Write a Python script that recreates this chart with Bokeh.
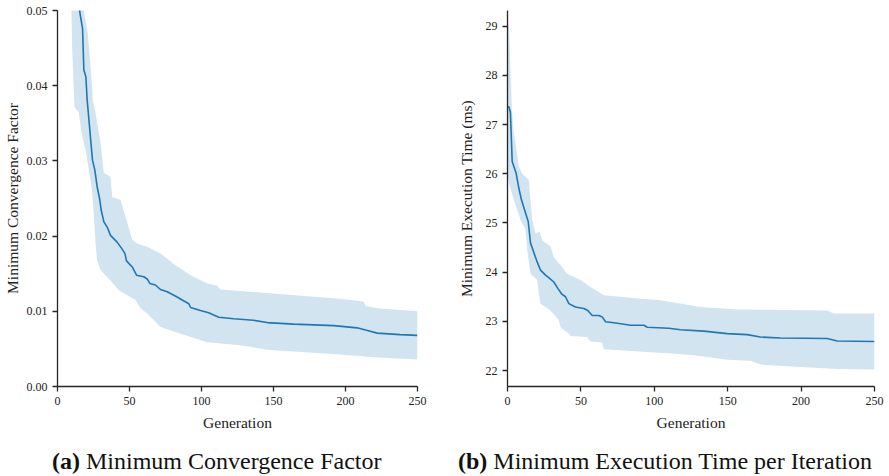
from bokeh.plotting import figure
from bokeh.layouts import row, column
from bokeh.models import Range1d, FixedTicker, PrintfTickFormatter, Div
from bokeh.embed import file_html
from bokeh.resources import INLINE

# ---------------- data: (a) Minimum Convergence Factor ----------------
conv_gen = [0, 15.3, 17.4, 18.3, 19.7, 20.6, 24.3, 25.9, 27.5, 29.4, 30.3, 32.2, 34.5, 36.8,
            41.4, 44.4, 46.8, 47.9, 51.9, 54.9, 59.9, 62.3, 64.1, 68, 71.5, 76.2, 83.1, 86.6,
            91.2, 92.4, 99.3, 105, 112, 122.4, 136, 145.6, 164, 191.9, 208, 213.9, 222, 238, 250]
conv_mean = [0.090, 0.0500, 0.0476, 0.0421, 0.0412, 0.0381, 0.0301, 0.0288, 0.0266, 0.0248,
             0.0235, 0.0219, 0.0212, 0.0201, 0.0192, 0.0184, 0.0177, 0.0167, 0.0159, 0.0148,
             0.0146, 0.0143, 0.0137, 0.0135, 0.0129, 0.0126, 0.0119, 0.0115, 0.0110, 0.0105,
             0.0101, 0.0098, 0.0092, 0.0090, 0.0088, 0.0085, 0.0083, 0.0081, 0.0078, 0.0075,
             0.0071, 0.0069, 0.0068]
conv_up_gen = [0, 18.3, 21, 23, 24.5, 26, 29.9, 32.2, 36.8, 38, 43.8, 51.9, 55.3, 62.3, 71.5,
               80.8, 92.4, 104, 111, 113, 141, 194, 212.5, 214, 222, 250]
conv_up = [0.110, 0.0500, 0.0470, 0.0426, 0.0381, 0.0368, 0.0324, 0.0284, 0.0279, 0.0252,
           0.0248, 0.0195, 0.0190, 0.0186, 0.0177, 0.0163, 0.0148, 0.0137, 0.0134, 0.0129,
           0.0125, 0.0117, 0.0113, 0.0107, 0.0104, 0.0100]
conv_lo_gen = [0, 9.7, 10.2, 11.8, 14.8, 16.7, 20, 24, 25.5, 26.4, 27.5, 29.9, 36.8, 42.6, 54.2,
               57.6, 62.3, 66.9, 71.5, 85.4, 104, 127, 145.6, 168.8, 194, 219.6, 250]
conv_lo = [0.075, 0.0500, 0.0448, 0.0372, 0.0364, 0.0337, 0.0310, 0.0260, 0.0220, 0.0190,
           0.0168, 0.0155, 0.0141, 0.0128, 0.0115, 0.0104, 0.0097, 0.0088, 0.0079, 0.0070,
           0.0059, 0.0055, 0.0049, 0.0046, 0.0043, 0.0039, 0.0036]

# ---------------- data: (b) Minimum Execution Time per Iteration ----------------
time_gen = [0, 1, 2, 3.2, 5.9, 7.7, 9.5, 11.6, 14.1, 15.7, 19.8, 22.5, 25.9, 28.1, 31.5, 34.3,
            36.8, 39.5, 41.8, 46.3, 52, 54.7, 57.7, 62.2, 64.5, 66.8, 72.4, 83.8, 92.9, 95.2,
            109.9, 117.8, 133.7, 149.7, 163.3, 172.3, 186, 217.8, 224.6, 250]
time_mean = [27.36, 27.36, 27.24, 26.25, 26.01, 25.71, 25.47, 25.27, 25.03, 24.59, 24.24,
             24.04, 23.94, 23.89, 23.80, 23.67, 23.56, 23.50, 23.36, 23.29, 23.26, 23.22,
             23.12, 23.12, 23.09, 22.99, 22.97, 22.92, 22.92, 22.88, 22.86, 22.83, 22.80,
             22.75, 22.73, 22.68, 22.66, 22.65, 22.60, 22.59]
time_up_gen = [0, 0.9, 2, 3, 4.3, 5.4, 7.7, 10, 14.5, 16.8, 19.1, 22, 23.6, 29.3, 31.5, 36.1,
               40.7, 49.7, 56.5, 65.6, 77, 90.6, 104.2, 131.5, 156.5, 217.8, 222.3, 250]
time_up = [29.05, 29.03, 28.19, 27.3, 26.83, 26.63, 26.15, 26.0, 25.88, 25.06, 24.79, 24.82,
           24.65, 24.52, 24.31, 24.14, 23.97, 23.84, 23.70, 23.53, 23.50, 23.46, 23.43, 23.29,
           23.24, 23.22, 23.16, 23.16]
time_lo_gen = [0, 0.5, 1, 4.3, 8.9, 12.3, 13.4, 15.7, 20.2, 21.3, 22.5, 29.3, 35, 36.1, 41.8,
               42.9, 54.3, 56.5, 64.5, 65.6, 81.5, 97.4, 110, 127, 149.7, 165.5, 172.3, 199.6,
               224.6, 250]
time_lo = [26.1, 25.9, 25.8, 25.47, 25.06, 24.86, 24.45, 23.97, 23.84, 23.57, 23.36, 23.22,
           23.02, 22.88, 22.75, 22.70, 22.68, 22.59, 22.57, 22.43, 22.40, 22.37, 22.35, 22.31,
           22.22, 22.20, 22.12, 22.07, 22.03, 22.02]

gen_ticks = [0, 50, 100, 150, 200, 250]
conv_ticks = [0.00, 0.01, 0.02, 0.03, 0.04, 0.05]
time_ticks = [22, 23, 24, 25, 26, 27, 28, 29]

FONT = "Liberation Serif"
BLUE = "#1f77b4"
AXC = "#262626"


def style(p, xlabel, ylabel, xticks, yticks, yfmt, ylabel_standoff):
    p.xgrid.visible = False
    p.ygrid.visible = False
    p.outline_line_color = None
    p.background_fill_color = "white"
    p.border_fill_color = "white"
    p.xaxis.axis_label = xlabel
    p.yaxis.axis_label = ylabel
    p.xaxis.ticker = FixedTicker(ticks=xticks)
    p.yaxis.ticker = FixedTicker(ticks=yticks)
    p.yaxis.formatter = PrintfTickFormatter(format=yfmt)
    for ax in (p.xaxis, p.yaxis):
        ax.axis_line_color = AXC
        ax.axis_line_width = 1.3
        ax.major_tick_line_color = AXC
        ax.major_tick_line_width = 1.3
        ax.major_tick_out = 5
        ax.major_tick_in = 0
        ax.minor_tick_line_color = None
        ax.major_label_text_font = FONT
        ax.major_label_text_font_size = "12px"
        ax.major_label_text_color = "#222222"
        ax.axis_label_text_font = FONT
        ax.axis_label_text_font_size = "15.5px"
        ax.axis_label_text_font_style = "normal"
        ax.axis_label_text_color = "#222222"
    p.xaxis.major_label_standoff = 5
    p.yaxis.major_label_standoff = 5
    p.xaxis.axis_label_standoff = 6
    p.yaxis.axis_label_standoff = ylabel_standoff


# ---------------- panel (a) ----------------
pa = figure(frame_width=360, frame_height=376,
            min_border_left=57, min_border_right=28, min_border_top=10, min_border_bottom=54,
            x_range=Range1d(0, 250), y_range=Range1d(0, 0.05),
            output_backend="svg", toolbar_location=None)
pa.title = None
style(pa, "Generation", "Minimum Convergence Factor", gen_ticks, conv_ticks, "%.2f", 3)
pa.patch(conv_up_gen + conv_lo_gen[::-1], conv_up + conv_lo[::-1],
         fill_color=BLUE, fill_alpha=0.2, line_color=None)
pa.line(conv_gen, conv_mean, line_color=BLUE, line_width=1.6)

# ---------------- panel (b) ----------------
pb = figure(frame_width=367, frame_height=376,
            min_border_left=62, min_border_right=15, min_border_top=10, min_border_bottom=54,
            x_range=Range1d(0, 250), y_range=Range1d(21.675, 29.32),
            output_backend="svg", toolbar_location=None)
pb.title = None
style(pb, "Generation", "Minimum Execution Time (ms)", gen_ticks, time_ticks, "%d", 8)
pb.patch(time_up_gen + time_lo_gen[::-1], time_up + time_lo[::-1],
         fill_color=BLUE, fill_alpha=0.2, line_color=None)
pb.line(time_gen, time_mean, line_color=BLUE, line_width=1.6)

cap_style = {"font-family": FONT, "font-size": "24px", "color": "#111111",
             "white-space": "nowrap", "overflow": "hidden", "padding-top": "4px"}
cap_a = Div(text="<b>(a)</b> Minimum Convergence Factor", width=445, height=36,
            margin=(0, 0, 0, 0), styles=dict(cap_style, **{"padding-left": "52px"}))
cap_b = Div(text="<b>(b)</b> Minimum Execution Time per Iteration", width=444, height=36,
            margin=(0, 0, 0, 0), styles=dict(cap_style, **{"padding-left": "13px"}))

layout = column(row(pa, pb, spacing=0), row(cap_a, cap_b, spacing=0), spacing=0)
open("out.html", "w").write(file_html(layout, INLINE))
